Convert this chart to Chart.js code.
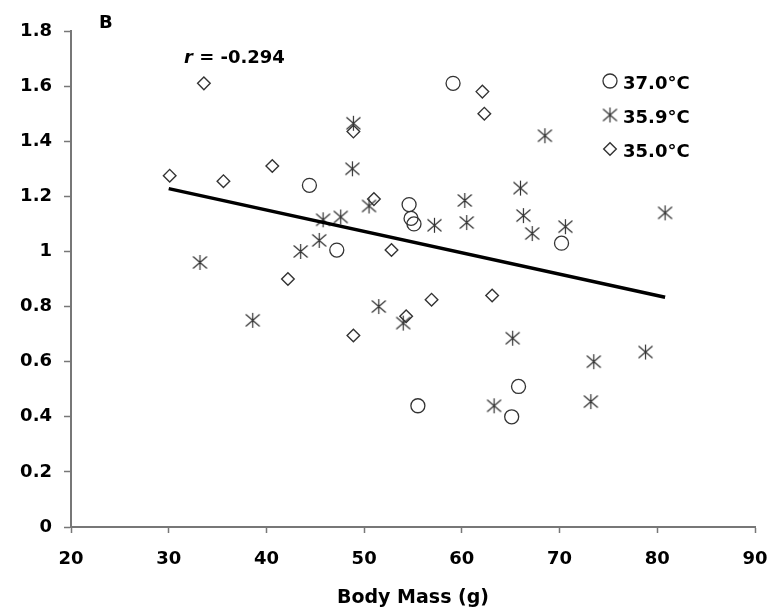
<!DOCTYPE html>
<html lang="en">
<head>
    <meta charset="UTF-8">
    <title>Body Mass scatter</title>
    <style>
        body { margin: 0; background: #fff; }
        canvas { display: block; }
    </style>
</head>
<body>
    <canvas id="massChart" width="780" height="614"></canvas>
    <script src="https://cdn.jsdelivr.net/npm/chart.js"></script>
    <script>
        // 37.0°C (circles)
        const warmX = [44.4, 47.2, 54.6, 54.8, 55.1, 59.1, 70.2, 65.8, 55.5, 65.1];
        const warmY = [1.24, 1.005, 1.17, 1.12, 1.10, 1.61, 1.03, 0.51, 0.44, 0.40];
        // 35.9°C (asterisks)
        const midX = [33.2, 38.6, 43.5, 45.4, 45.8, 47.6, 48.9, 48.8, 50.5, 51.5, 54.0, 57.2, 60.3,
                      60.5, 63.3, 65.2, 66.0, 66.3, 67.2, 68.5, 70.6, 73.2, 73.5, 78.8, 80.8];
        const midY = [0.96, 0.75, 1.0, 1.04, 1.115, 1.125, 1.465, 1.30, 1.165, 0.80, 0.74, 1.095, 1.185,
                      1.105, 0.44, 0.685, 1.23, 1.13, 1.065, 1.42, 1.09, 0.455, 0.60, 0.635, 1.14];
        // 35.0°C (diamonds)
        const coolX = [30.1, 33.6, 35.6, 40.6, 42.2, 48.9, 51.0, 52.8, 54.3, 56.9, 48.9, 62.1, 62.3, 63.1];
        const coolY = [1.275, 1.61, 1.255, 1.31, 0.90, 1.435, 1.19, 1.005, 0.765, 0.825, 0.695, 1.58, 1.50, 0.84];
        // regression line end points
        const trendX = [30, 80.8];
        const trendY = [1.228, 0.834];

        const seriesNames = ["37.0\u00B0C", "35.9\u00B0C", "35.0\u00B0C"];
        const xTicks = [20, 30, 40, 50, 60, 70, 80, 90];
        const yTicks = [0, 0.2, 0.4, 0.6, 0.8, 1, 1.2, 1.4, 1.6, 1.8];

        const FONT = "'DejaVu Sans', sans-serif";
        const MARK = "#333";
        const AXIS = "#777";

        function pairs(xs, ys) {
            return xs.map((x, i) => ({ x: x, y: ys[i] }));
        }

        // asterisk marker: vertical bar plus an X
        function makeAsterisk() {
            const c = document.createElement("canvas");
            c.width = 17;
            c.height = 17;
            const g = c.getContext("2d");
            g.strokeStyle = MARK;
            g.lineWidth = 1.2;
            g.beginPath();
            g.moveTo(8.5, 1); g.lineTo(8.5, 16);
            g.moveTo(1.5, 2.5); g.lineTo(15.5, 14.5);
            g.moveTo(1.5, 14.5); g.lineTo(15.5, 2.5);
            g.stroke();
            return c;
        }
        const asterisk = makeAsterisk();

        const styles = [
            { pointStyle: "circle", radius: 7, borderWidth: 1.3 },
            { pointStyle: asterisk, radius: 8, borderWidth: 1 },
            { pointStyle: "rectRot", radius: 6.3, borderWidth: 1.4 }
        ];

        const annotations = {
            id: "annotations",
            afterDraw(chart) {
                const ctx = chart.ctx;
                const area = chart.chartArea;
                ctx.save();
                ctx.fillStyle = "#000";
                ctx.textBaseline = "alphabetic";
                ctx.textAlign = "left";

                // panel letter
                ctx.font = "bold 18px " + FONT;
                ctx.fillText("B", area.left + 28, area.top - 3);

                // correlation
                ctx.font = "italic bold 18px " + FONT;
                ctx.fillText("r", area.left + 113, area.top + 32);
                const rw = ctx.measureText("r").width;
                ctx.font = "bold 18px " + FONT;
                ctx.fillText(" = -0.294", area.left + 113 + rw, area.top + 32);

                // legend
                for (let i = 0; i < seriesNames.length; i++) {
                    const cy = area.top + 50 + i * 34;
                    const mx = area.right - 145;
                    const st = styles[i];
                    ctx.strokeStyle = MARK;
                    ctx.fillStyle = "rgba(0,0,0,0)";
                    ctx.lineWidth = st.borderWidth;
                    Chart.helpers.drawPoint(ctx, {
                        pointStyle: st.pointStyle, radius: st.radius, rotation: 0, borderWidth: st.borderWidth
                    }, mx, cy);
                    ctx.fillStyle = "#000";
                    ctx.font = "bold 18px " + FONT;
                    ctx.fillText(seriesNames[i], mx + 13, cy + 7.5);
                }
                ctx.restore();
            }
        };

        function fixedTicks(values) {
            return function (scale) {
                scale.ticks = values.map(v => ({ value: v }));
            };
        }

        const ctx = document.getElementById("massChart").getContext("2d");
        const chart = new Chart(ctx, {
            type: "scatter",
            data: {
                datasets: [
                    {
                        type: "line",
                        label: "fit",
                        data: pairs(trendX, trendY),
                        borderColor: "#000",
                        borderWidth: 3.5,
                        pointRadius: 0,
                        fill: false
                    },
                    {
                        label: seriesNames[0],
                        data: pairs(warmX, warmY),
                        pointStyle: styles[0].pointStyle,
                        pointRadius: styles[0].radius,
                        borderColor: MARK,
                        backgroundColor: "rgba(0,0,0,0)",
                        borderWidth: styles[0].borderWidth
                    },
                    {
                        label: seriesNames[1],
                        data: pairs(midX, midY),
                        pointStyle: styles[1].pointStyle,
                        pointRadius: styles[1].radius,
                        borderColor: MARK,
                        backgroundColor: "rgba(0,0,0,0)",
                        borderWidth: styles[1].borderWidth
                    },
                    {
                        label: seriesNames[2],
                        data: pairs(coolX, coolY),
                        pointStyle: styles[2].pointStyle,
                        pointRadius: styles[2].radius,
                        borderColor: MARK,
                        backgroundColor: "rgba(0,0,0,0)",
                        borderWidth: styles[2].borderWidth
                    }
                ]
            },
            plugins: [annotations],
            options: {
                responsive: false,
                animation: false,
                layout: { padding: { left: 0, top: 31, right: 25, bottom: 0 } },
                plugins: {
                    legend: { display: false },
                    tooltip: { enabled: false }
                },
                scales: {
                    x: {
                        type: "linear",
                        min: 20,
                        max: 90,
                        afterBuildTicks: fixedTicks(xTicks),
                        afterFit: (scale) => {
                            scale.height = 87;
                            scale.paddingLeft = 0;
                            scale.paddingRight = 0;
                        },
                        border: { color: AXIS, width: 2 },
                        grid: { drawOnChartArea: false, tickLength: 6, tickColor: AXIS, tickWidth: 1.5 },
                        ticks: {
                            color: "#000",
                            padding: 16,
                            font: { family: FONT, size: 18, weight: "bold" },
                            callback: (v) => String(v)
                        },
                        title: {
                            display: true,
                            text: "Body Mass (g)",
                            color: "#000",
                            padding: { top: 0, bottom: 5 },
                            font: { family: FONT, size: 19, weight: "bold" }
                        }
                    },
                    y: {
                        min: 0,
                        max: 1.8,
                        afterBuildTicks: fixedTicks(yTicks),
                        afterFit: (scale) => { scale.width = 71; },
                        border: { color: AXIS, width: 2 },
                        grid: { drawOnChartArea: false, tickLength: 7, tickColor: AXIS, tickWidth: 1.5 },
                        ticks: {
                            color: "#000",
                            padding: 12,
                            font: { family: FONT, size: 18, weight: "bold" },
                            callback: (v) => String(v)
                        }
                    }
                }
            }
        });
    </script>
</body>
</html>
